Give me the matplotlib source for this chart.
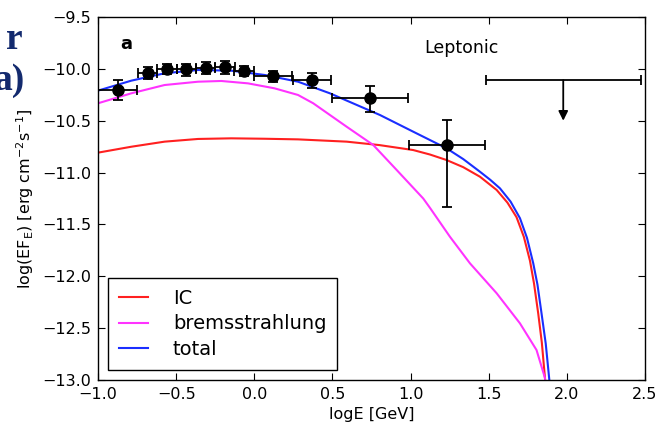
import numpy as np
import matplotlib
matplotlib.use('Agg')
import matplotlib.pyplot as plt

# data points (logE, log flux) with errors
pt_x = [-0.875, -0.682, -0.558, -0.435, -0.311, -0.187, -0.066, 0.120, 0.367, 0.740, 1.233]
pt_y = [-10.20, -10.04, -10.00, -10.005, -9.99, -9.985, -10.02, -10.066, -10.11, -10.278, -10.734]
pt_xerr = [0.125, 0.062, 0.062, 0.062, 0.062, 0.062, 0.062, 0.12, 0.122, 0.245, 0.246]
pt_yerr_lo = [0.10, 0.06, 0.05, 0.06, 0.06, 0.06, 0.05, 0.06, 0.07, 0.14, 0.60]
pt_yerr_hi = [0.09, 0.06, 0.05, 0.05, 0.06, 0.06, 0.05, 0.05, 0.07, 0.11, 0.24]

# upper limit
ul_x = 1.977
ul_y = -10.11
ul_xerr = 0.495
ul_len = 0.39

# model curves
ic_x = [-1.0, -0.787, -0.574, -0.36, -0.147, 0.066, 0.28, 0.591, 0.80, 1.017, 1.124, 1.23, 1.337,
        1.444, 1.551, 1.62, 1.678, 1.725, 1.764, 1.79, 1.817, 1.84, 1.86, 1.875]
ic_y = [-10.808, -10.751, -10.702, -10.676, -10.67, -10.674, -10.68, -10.702, -10.735, -10.783,
        -10.826, -10.879, -10.948, -11.04, -11.168, -11.29, -11.43, -11.62, -11.85, -12.07,
        -12.36, -12.64, -12.98, -13.3]

brems_x = [-1.0, -0.787, -0.574, -0.36, -0.211, -0.04, 0.13, 0.28, 0.377, 0.591, 0.761, 0.911,
           1.081, 1.124, 1.252, 1.38, 1.551, 1.70, 1.806, 1.86, 1.875]
brems_y = [-10.332, -10.236, -10.156, -10.124, -10.117, -10.14, -10.188, -10.252, -10.332, -10.558,
           -10.734, -10.975, -11.25, -11.34, -11.619, -11.875, -12.164, -12.454, -12.711, -12.98, -13.3]

tot_x = [-1.0, -0.787, -0.574, -0.36, -0.147, 0.066, 0.28, 0.484, 0.804, 1.017, 1.23, 1.337, 1.444,
         1.51, 1.572, 1.64, 1.70, 1.745, 1.785, 1.812, 1.838, 1.865, 1.888, 1.9]
tot_y = [-10.21, -10.114, -10.043, -10.011, -10.018, -10.059, -10.124, -10.236, -10.445, -10.606,
         -10.766, -10.87, -10.992, -11.07, -11.152, -11.28, -11.44, -11.63, -11.875, -12.08,
         -12.357, -12.65, -13.0, -13.3]

fig = plt.figure(figsize=(6.56, 4.30), dpi=100)
ax = fig.add_axes([0.1494, 0.1163, 0.8338, 0.8442])

ax.plot(ic_x, ic_y, color='#ff2020', lw=1.5, label='IC')
ax.plot(brems_x, brems_y, color='#ff33ff', lw=1.5, label='bremsstrahlung')
ax.plot(tot_x, tot_y, color='#1a2eff', lw=1.5, label='total')

ax.errorbar(pt_x, pt_y, xerr=pt_xerr, yerr=[pt_yerr_lo, pt_yerr_hi], fmt='o', color='black',
            ms=8, lw=1.3, capsize=3.5, capthick=1.3)
ax.errorbar([ul_x], [ul_y], xerr=[ul_xerr], fmt='none', ecolor='black', lw=1.3, capsize=3.5, capthick=1.3)
ax.annotate('', xy=(ul_x, ul_y - ul_len), xytext=(ul_x, ul_y),
            arrowprops=dict(arrowstyle='-|>', color='black', lw=1.3, mutation_scale=14, shrinkA=0, shrinkB=0))

ax.set_xlim(-1.0, 2.5)
ax.set_ylim(-13.0, -9.5)
ax.set_xticks(np.arange(-1.0, 2.51, 0.5))
ax.set_yticks(np.arange(-13.0, -9.49, 0.5))
ax.tick_params(direction='in', top=True, right=True, length=5, width=0.8, labelsize=11.5, pad=5)
for s in ax.spines.values():
    s.set_linewidth(1.0)

ax.set_xlabel('logE [GeV]', fontsize=11.5)
ax.set_ylabel(r'log(EF$_{\rm E}$) [erg cm$^{-2}$s$^{-1}$]', fontsize=11.5)

ax.text(0.04, 0.912, 'a', transform=ax.transAxes, fontsize=13, fontweight='bold')
ax.text(0.597, 0.9, 'Leptonic', transform=ax.transAxes, fontsize=12.5)

leg = ax.legend(loc='lower left', bbox_to_anchor=(0.018, 0.028), borderaxespad=0, fontsize=14,
                handlelength=1.5, handletextpad=1.3, borderpad=0.55, fancybox=False, framealpha=1,
                edgecolor='black', labelspacing=0.35)
leg.get_frame().set_linewidth(1.0)

# cut-off slide title fragments
fig.text(0.034, 0.885, 'r', fontsize=27, fontweight='bold', family='Liberation Serif',
         color='#132a6e', ha='right')
fig.text(0.038, 0.79, 'a)', fontsize=27, fontweight='bold', family='Liberation Serif',
         color='#132a6e', ha='right')

fig.savefig('out.png', dpi=100)
